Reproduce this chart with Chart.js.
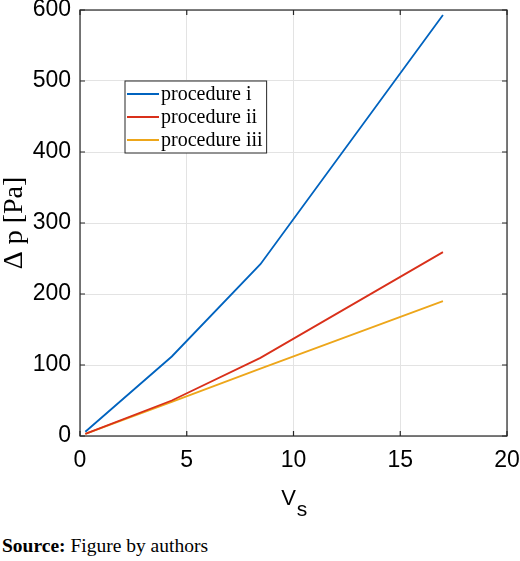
<!DOCTYPE html>
<html>
<head>
<meta charset="utf-8">
<script src="https://cdn.jsdelivr.net/npm/chart.js@4/dist/chart.umd.min.js"></script>
<style>
  body { margin: 0; background: #fff; width: 520px; height: 561px; position: relative; overflow: hidden; }
  #wrap { position: absolute; left: 0; top: 0; width: 520px; height: 525px; }
  #caption { position: absolute; left: 2px; top: 535px; font: 19.5px "Liberation Serif", "Times New Roman", serif; color: #000; white-space: nowrap; }
</style>
</head>
<body>
<div id="wrap"><canvas id="chart" width="520" height="525"></canvas></div>
<div id="caption"><b>Source:</b> Figure by authors</div>
<script>
// values
const vs = [0.25, 4.3, 8.45, 17.0];
const procI = [6, 112, 242, 593];
const procII = [3, 50, 110, 259];
const procIII = [3, 48, 95, 190];
const seriesNames = ['procedure i', 'procedure ii', 'procedure iii'];
const seriesColors = ['#0063BF', '#D9301A', '#EDA61A'];
const xTicks = [0, 5, 10, 15, 20];
const yTicks = [0, 100, 200, 300, 400, 500, 600];

function toPoints(ys) {
    return vs.map((x, i) => ({ x: x, y: ys[i] }));
}

const frameColor = '#262626';

// box round the plot with inside ticks, as in the original figure
const framePlugin = {
    id: 'frame',
    afterDraw(chart) {
        const ctx = chart.ctx;
        const a = chart.chartArea;
        const xs = chart.scales.x;
        const ys = chart.scales.y;
        ctx.save();
        ctx.strokeStyle = frameColor;
        ctx.lineWidth = 1.2;
        ctx.strokeRect(a.left, a.top, a.right - a.left, a.bottom - a.top);
        ctx.beginPath();
        xTicks.forEach(v => {
            const px = xs.getPixelForValue(v);
            ctx.moveTo(px, a.bottom); ctx.lineTo(px, a.bottom - 5);
            ctx.moveTo(px, a.top); ctx.lineTo(px, a.top + 5);
        });
        yTicks.forEach(v => {
            const py = ys.getPixelForValue(v);
            ctx.moveTo(a.left, py); ctx.lineTo(a.left + 5, py);
            ctx.moveTo(a.right, py); ctx.lineTo(a.right - 5, py);
        });
        ctx.stroke();

        // x axis title V with subscript s
        ctx.fillStyle = '#000';
        ctx.textBaseline = 'alphabetic';
        ctx.textAlign = 'left';
        ctx.font = '22px "Liberation Sans", Arial, sans-serif';
        const cx = (a.left + a.right) / 2;
        const vw = ctx.measureText('V').width;
        ctx.fillText('V', cx - vw / 2 - 5, 505);
        ctx.font = '21px "Liberation Sans", Arial, sans-serif';
        ctx.fillText('s', cx + vw / 2 - 4, 516);

        // y axis title
        ctx.translate(15, (a.top + a.bottom) / 2);
        ctx.rotate(-Math.PI / 2);
        ctx.textAlign = 'center';
        ctx.textBaseline = 'middle';
        ctx.font = '28px "Liberation Serif", "Times New Roman", serif';
        ctx.fillText('\u0394 p [Pa]', 0, 0);
        ctx.restore();
    }
};

// legend box inside the plot
const boxLegendPlugin = {
    id: 'boxLegend',
    afterDraw(chart) {
        const ctx = chart.ctx;
        const a = chart.chartArea;
        const sets = chart.data.datasets;
        ctx.save();
        ctx.font = '20px "Liberation Serif", "Times New Roman", serif';
        let maxW = 0;
        sets.forEach(d => { maxW = Math.max(maxW, ctx.measureText(d.label).width); });
        const left = a.left + 45;
        const top = a.top + 71;
        const lineLen = 32;
        const rowH = 23;
        const w = 2 + lineLen + 2 + maxW + 4;
        const h = rowH * sets.length + 3;
        ctx.fillStyle = '#fff';
        ctx.fillRect(left, top, w, h);
        ctx.strokeStyle = frameColor;
        ctx.lineWidth = 1;
        ctx.strokeRect(left, top, w, h);
        ctx.textBaseline = 'middle';
        ctx.textAlign = 'left';
        sets.forEach((d, i) => {
            const cy = top + 13 + i * rowH;
            ctx.strokeStyle = d.borderColor;
            ctx.lineWidth = 2;
            ctx.beginPath();
            ctx.moveTo(left + 2, cy);
            ctx.lineTo(left + 2 + lineLen, cy);
            ctx.stroke();
            ctx.fillStyle = '#000';
            ctx.fillText(d.label, left + 4 + lineLen, cy + 1);
        });
        ctx.restore();
    }
};

const tickFont = { family: '"Liberation Sans", Arial, sans-serif', size: 23 };

new Chart(document.getElementById('chart').getContext('2d'), {
    type: 'line',
    data: {
        datasets: [
            { label: seriesNames[0], data: toPoints(procI), borderColor: seriesColors[0] },
            { label: seriesNames[1], data: toPoints(procII), borderColor: seriesColors[1] },
            { label: seriesNames[2], data: toPoints(procIII), borderColor: seriesColors[2] }
        ].map(d => Object.assign(d, { borderWidth: 1.8, pointRadius: 0, fill: false, tension: 0 }))
    },
    options: {
        responsive: false,
        animation: false,
        layout: { padding: { top: 10, right: 13, left: 0, bottom: 0 } },
        plugins: { legend: { display: false }, tooltip: { enabled: false } },
        scales: {
            x: {
                type: 'linear', min: 0, max: 20,
                afterBuildTicks(s) { s.ticks = xTicks.map(v => ({ value: v })); },
                afterFit(s) { s.height = 89; s.paddingLeft = 0; s.paddingRight = 0; },
                grid: { color: '#e3e3e3', drawTicks: false },
                border: { display: false },
                ticks: { font: tickFont, color: '#000', padding: 11 }
            },
            y: {
                type: 'linear', min: 0, max: 600,
                afterBuildTicks(s) { s.ticks = yTicks.map(v => ({ value: v })); },
                afterFit(s) { s.width = 80; s.paddingTop = 0; s.paddingBottom = 0; },
                grid: { color: '#e3e3e3', drawTicks: false },
                border: { display: false },
                ticks: { font: tickFont, color: '#000', padding: 9 }
            }
        }
    },
    plugins: [framePlugin, boxLegendPlugin]
});
</script>
</body>
</html>
